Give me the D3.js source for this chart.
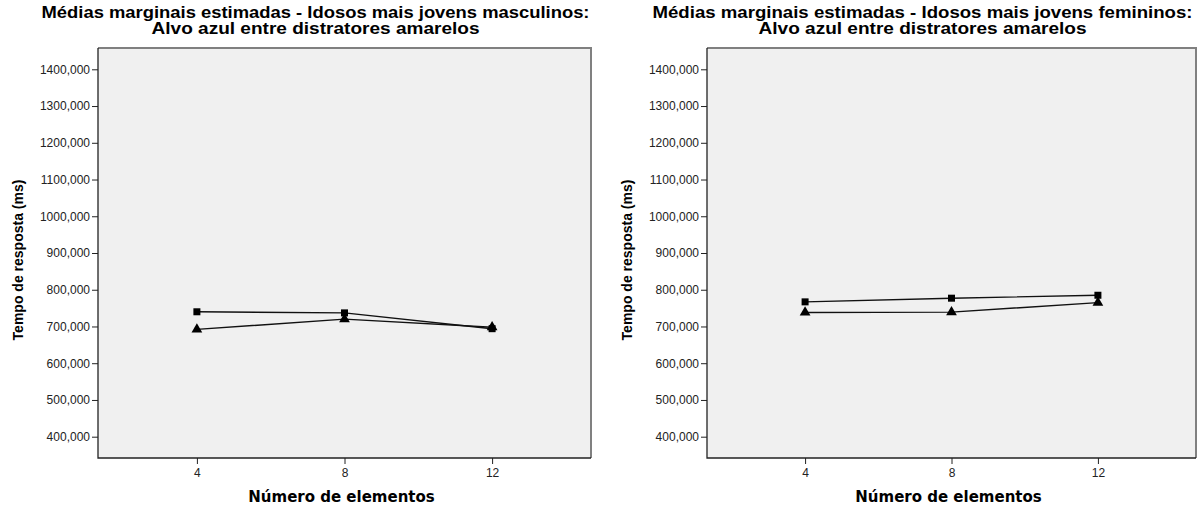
<!DOCTYPE html>
<html>
<head>
<meta charset="utf-8">
<script src="https://cdn.jsdelivr.net/npm/d3@7"></script>
<style>
  body { margin: 0; background: #fff; }
  svg { display: block; }
</style>
</head>
<body>
<svg id="chart" width="1200" height="507"></svg>
<script>
// values
var categories = ["4", "8", "12"];
var yTicks = [400, 500, 600, 700, 800, 900, 1000, 1100, 1200, 1300, 1400];

var maleSquare = [740, 737, 694];
var maleTriangle = [692, 720, 698];
var femaleSquare = [767, 777, 785];
var femaleTriangle = [738, 739, 765];

var titles = [
  ["Médias marginais estimadas - Idosos mais jovens masculinos:", "Alvo azul entre distratores amarelos"],
  ["Médias marginais estimadas - Idosos mais jovens femininos:", "Alvo azul entre distratores amarelos"]
];

var panels = [
  {x0: 98, x1: 591, title: titles[0], sq: maleSquare, tri: maleTriangle, w1: 548},
  {x0: 707, x1: 1196, title: titles[1], sq: femaleSquare, tri: femaleTriangle, w1: 540}
];

var plotTop = 48, plotBottom = 458;
var svg = d3.select("#chart");

function drawPanel(p) {
  var g = svg.append("g");

  var x = d3.scalePoint()
    .domain(categories)
    .range([p.x0, p.x1])
    .padding(0.67);

  var y = d3.scaleLinear()
    .domain([342, 1458])
    .range([plotBottom, plotTop]);

  // plot background + frame
  g.append("rect")
    .attr("x", p.x0).attr("y", plotTop)
    .attr("width", p.x1 - p.x0).attr("height", plotBottom - plotTop)
    .attr("fill", "#f0f0f0");
  g.append("path")
    .attr("d", "M" + p.x0 + "," + plotTop + "H" + p.x1 + "V" + plotBottom)
    .attr("fill", "none").attr("stroke", "#808080").attr("stroke-width", 2);

  // titles
  var cx = (p.x0 + p.x1) / 2 - 29;
  g.append("text").attr("x", cx).attr("y", 18)
    .attr("text-anchor", "middle")
    .attr("textLength", p.w1).attr("lengthAdjust", "spacingAndGlyphs")
    .style("font", "bold 16.5px 'Liberation Sans', Arial, sans-serif")
    .text(p.title[0]);
  g.append("text").attr("x", cx).attr("y", 34)
    .attr("text-anchor", "middle")
    .attr("textLength", 328).attr("lengthAdjust", "spacingAndGlyphs")
    .style("font", "bold 16.5px 'Liberation Sans', Arial, sans-serif")
    .text(p.title[1]);

  // axes
  var ya = g.append("g")
    .attr("transform", "translate(" + p.x0 + ",0)")
    .call(d3.axisLeft(y).tickValues(yTicks).tickSize(6).tickPadding(2)
      .tickFormat(function(d) { return d + ",000"; }));
  ya.select(".domain").remove();
  ya.selectAll("line").attr("stroke", "#222");
  ya.selectAll("text").style("font", "12px 'Liberation Sans', Arial, sans-serif").attr("fill", "#222");

  var xa = g.append("g")
    .attr("transform", "translate(0," + plotBottom + ")")
    .call(d3.axisBottom(x).tickSize(6).tickPadding(4));
  xa.select(".domain").remove();
  xa.selectAll("line").attr("stroke", "#222");
  xa.selectAll("text").style("font", "12px 'Liberation Sans', Arial, sans-serif").attr("fill", "#222");

  g.append("path")
    .attr("d", "M" + p.x0 + "," + plotTop + "V" + plotBottom + "H" + p.x1)
    .attr("fill", "none").attr("stroke", "#222").attr("stroke-width", 1.3);

  // axis titles
  g.append("text")
    .attr("transform", "translate(" + (p.x0 - 75) + "," + ((plotTop + plotBottom) / 2 + 7) + ") rotate(-90)")
    .attr("text-anchor", "middle")
    .style("font", "bold 14px 'Liberation Sans', Arial, sans-serif")
    .text("Tempo de resposta (ms)");
  g.append("text")
    .attr("x", (p.x0 + p.x1) / 2 - 3).attr("y", 502)
    .attr("text-anchor", "middle")
    .style("font", "bold 15px 'DejaVu Sans', Verdana, sans-serif")
    .text("Número de elementos");

  // lines + markers
  var line = d3.line()
    .x(function(d, i) { return x(categories[i]); })
    .y(function(d) { return y(d); });

  [p.sq, p.tri].forEach(function(s) {
    g.append("path").datum(s)
      .attr("d", line)
      .attr("fill", "none").attr("stroke", "#111").attr("stroke-width", 1.4);
  });

  g.selectAll(".sq").data(p.sq).enter().append("rect")
    .attr("x", function(d, i) { return x(categories[i]) - 3.5; })
    .attr("y", function(d) { return y(d) - 3.5; })
    .attr("width", 7).attr("height", 7)
    .attr("fill", "#000");

  g.selectAll(".tri").data(p.tri).enter().append("path")
    .attr("transform", function(d, i) { return "translate(" + x(categories[i]) + "," + y(d) + ")"; })
    .attr("d", d3.symbol().type(d3.symbolTriangle).size(50))
    .attr("fill", "#000");
}

panels.forEach(drawPanel);
</script>
</body>
</html>
